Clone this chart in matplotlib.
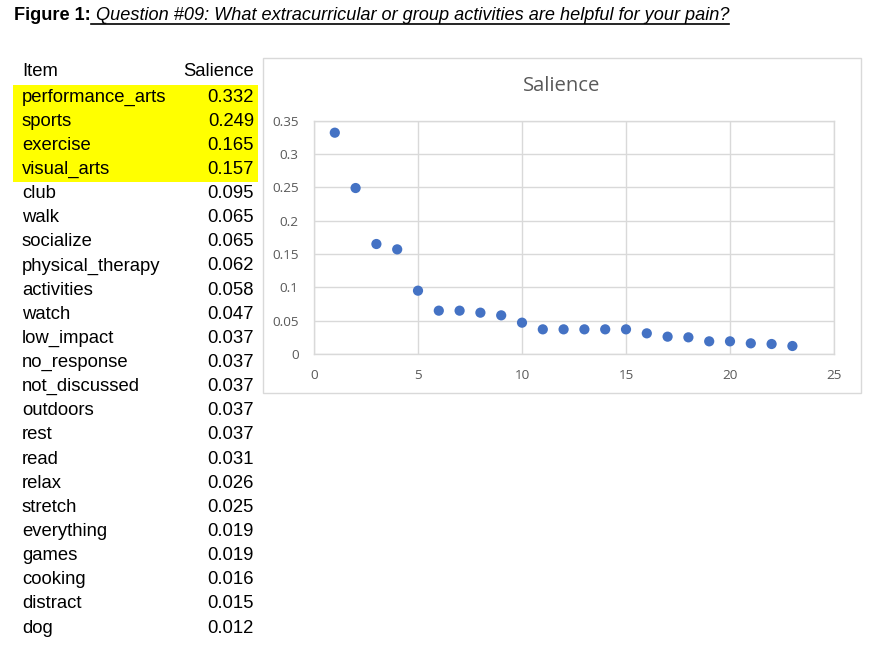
import matplotlib
matplotlib.use("Agg")
import matplotlib.pyplot as plt
from matplotlib.patches import Rectangle

# Items and their salience scores (Question #09)
items = [
    "performance_arts", "sports", "exercise", "visual_arts", "club", "walk",
    "socialize", "physical_therapy", "activities", "watch", "low_impact",
    "no_response", "not_discussed", "outdoors", "rest", "read", "relax",
    "stretch", "everything", "games", "cooking", "distract", "dog",
]
salience = [
    0.332, 0.249, 0.165, 0.157, 0.095, 0.065, 0.065, 0.062, 0.058, 0.047,
    0.037, 0.037, 0.037, 0.037, 0.037, 0.031, 0.026, 0.025, 0.019, 0.019,
    0.016, 0.015, 0.012,
]
n_highlight = 4
x_ticks = [0, 5, 10, 15, 20, 25]
y_ticks = [0, 0.05, 0.1, 0.15, 0.2, 0.25, 0.3, 0.35]
y_tick_labels = ["0", "0.05", "0.1", "0.15", "0.2", "0.25", "0.3", "0.35"]

W, H = 875, 648
fig = plt.figure(figsize=(W / 100, H / 100), dpi=100)
fig.patch.set_facecolor("white")


def fx(px):
    return px / W


def fy(py):
    return 1 - py / H


# Heading: bold label followed by italic, underlined question
fs_head = 13.1
head = fig.text(fx(14), fy(20.5), "Figure 1:", fontsize=fs_head, fontweight="bold",
                family="Liberation Sans", va="baseline", ha="left")
fig.canvas.draw()
bb = head.get_window_extent()
q = fig.text(bb.x1 / W, fy(20.5),
             " Question #09: What extracurricular or group activities are helpful for your pain?",
             fontsize=fs_head, fontstyle="italic", family="Liberation Sans",
             va="baseline", ha="left")
fig.canvas.draw()
qb = q.get_window_extent()
fig.add_artist(plt.Line2D([qb.x0 / W, qb.x1 / W], [fy(23.5), fy(23.5)],
                          color="black", lw=1.2, transform=fig.transFigure))

# Table of items with salience values
row0, dy = 97, 24.14
fs_tab = 13.3
fig.patches.append(Rectangle((fx(13), fy(row0 - 12 + n_highlight * dy)),
                             fx(258) - fx(13), (n_highlight * dy) / H,
                             transform=fig.transFigure, facecolor="#FFFF00",
                             edgecolor="none", zorder=-1))
fig.text(fx(22), fy(72), "Item", fontsize=fs_tab, family="Liberation Sans",
         va="center", ha="left")
fig.text(fx(254), fy(72), "Salience", fontsize=fs_tab, family="Liberation Sans",
         va="center", ha="right")
for i, (name, val) in enumerate(zip(items, salience)):
    yy = fy(row0 + i * dy)
    fig.text(fx(22), yy, name, fontsize=fs_tab, family="Liberation Sans",
             va="center", ha="left")
    fig.text(fx(254), yy, f"{val:.3f}", fontsize=fs_tab, family="Liberation Sans",
             va="center", ha="right")

# Chart frame
fig.patches.append(Rectangle((fx(263), fy(393)), fx(861) - fx(263), (393 - 58) / H,
                             transform=fig.transFigure, facecolor="white",
                             edgecolor="#D9D9D9", lw=1.0, zorder=-1))
fig.text(fx(562), fy(86), "Salience", fontsize=14.6, family="Open Sans",
         color="#595959", va="center", ha="center")

ax = fig.add_axes([fx(314), fy(354), fx(834) - fx(314), (354 - 120.7) / H])
ax.set_zorder(1)
ax.set_facecolor("white")
x_vals = list(range(1, len(salience) + 1))
ax.scatter(x_vals, salience, s=54, color="#4472C4", edgecolors="none",
           zorder=3, clip_on=False)
ax.set_xlim(0, 25)
ax.set_ylim(0, 0.35)
ax.set_xticks(x_ticks)
ax.set_xticklabels([str(v) for v in x_ticks])
ax.set_yticks(y_ticks)
ax.set_yticklabels(y_tick_labels)
ax.grid(True, color="#D9D9D9", lw=1.0, zorder=0)
ax.set_axisbelow(True)
for sp in ax.spines.values():
    sp.set_color("#D9D9D9")
    sp.set_linewidth(1.0)
ax.tick_params(axis="both", length=0, labelcolor="#595959", labelsize=9.7)
ax.tick_params(axis="y", pad=11)
ax.tick_params(axis="x", pad=11)
for lab in ax.get_xticklabels() + ax.get_yticklabels():
    lab.set_family("Open Sans")

fig.savefig("out.png", dpi=100, facecolor="white")
